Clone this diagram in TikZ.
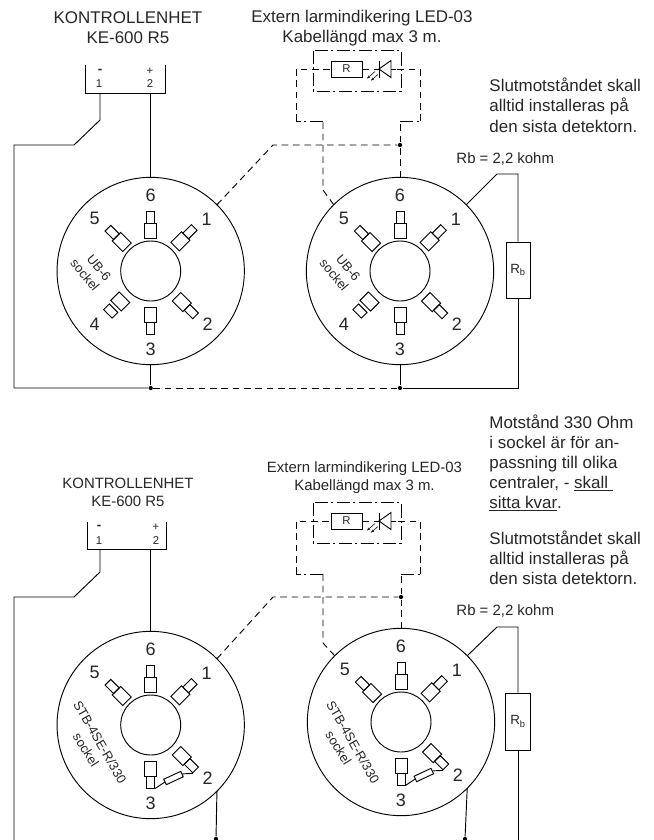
\documentclass[tikz,border=0pt]{standalone}
\usepackage{fontspec}
\setmainfont{Liberation Sans}
\usetikzlibrary{arrows.meta}
\tikzset{
  every node/.style={text=black!85},
  streck/.style={dash pattern=on 5pt off 3.5pt},
  streckpunkt/.style={dash pattern=on 10pt off 2.5pt on 1.5pt off 2.5pt},
  prick/.style={circle, fill=black, inner sep=0pt, minimum size=3.2pt},
  stor/.style={draw, inner sep=0pt, minimum width=9pt, minimum height=11.25pt},
  liten/.style={draw, inner sep=0pt, minimum width=6pt, minimum height=9pt},
  siffra/.style={font=\fontsize{13.5}{16}\selectfont},
  plint/.style={font=\fontsize{8.5}{10}\selectfont},
  minus/.style={font=\fontsize{10}{12}\selectfont\bfseries},
  rubrik/.style={align=center, font=\fontsize{12.7}{15}\selectfont},
  rubrikliten/.style={align=center, font=\fontsize{11.2}{13.5}\selectfont},
  notis/.style={align=left, anchor=north west, inner sep=0pt, font=\fontsize{12.7}{15.4}\selectfont},
  notisliten/.style={align=left, anchor=north west, inner sep=0pt, font=\fontsize{12.7}{15}\selectfont},
  rbtext/.style={anchor=west, inner sep=0pt, font=\fontsize{11.2}{13}\selectfont},
  vrid/.style={font=\fontsize{9.7}{11}\selectfont},
  pics/sockel/.style={code={
    \node[draw, circle, inner sep=0pt, outer sep=0pt, minimum size=140.5pt] (outer) at (0,0) {};
    \node[draw, circle, inner sep=0pt, minimum size=45pt] (inner) at (0,0) {};
    % stift 6, 1, 5, 2, 3
    \foreach \n/\a/\r in {6/-90/40.5, 1/-45/42, 5/-135/41, 2/45/44, 3/90/43.5} {
      \node[stor, rotate=-1*\a-90] (stor\n) at (\a:\r) {};
      \node[liten, rotate=-1*\a-90] (liten\n) at (\a:\r+13.5) {};
    }
    \node[siffra] (nr6) at (0,-76) {6};
    \node[siffra] (nr5) at (-56,-53) {5};
    \node[siffra] (nr1) at (56,-52) {1};
    \node[siffra] (nr2) at (57,53) {2};
    \node[siffra] (nr3) at (0,78) {3};
  }},
  pics/led/.style={code={
    \draw[streckpunkt] (-44,-20) rectangle (44,20.5);
    \node[draw, inner sep=0pt, minimum width=23.25pt, minimum height=12pt, plint] (R) at (-10.5,-1.5) {R};
    \coordinate (katod) at (22,-1.5);
    \coordinate (anod) at (34,-1.5);
    \draw (34,-10) -- (22,-1.5) -- (34,7) -- cycle;
    \draw (22,-10) -- (22,7);
    \draw (anod) -- (39,-1.5);
    \draw[streck] (R.east) -- (katod);
    % ljuspilar
    \draw[-{Stealth[length=2.5pt,width=2pt]}, line width=.4pt] (18,1) -- (10,8);
    \draw[-{Stealth[length=2.5pt,width=2pt]}, line width=.4pt] (21,4) -- (14,10);
  }}
}
\begin{document}
\begin{tikzpicture}[x=.75pt, y=-.75pt, line width=.7pt]
  \useasboundingbox (0,0) rectangle (654,840);

  % Rubriker, ovre schemat
  \node[rubrik] (enhet1) at (128,28) {KONTROLLENHET\\KE-600 R5};
  \node[rubrik] (larm1) at (362,28) {Extern larmindikering LED-03\\Kabellängd max 3 m.};
  \node[notis] (not1) at (489,77) {Slutmotståndet skall\\alltid installeras på\\den sista detektorn.};
  \node[rbtext] (rbtext1) at (456,159) {Rb = 2,2 kohm};

  % Plint
  \draw (85,65) -- (85,93) -- (165,93) -- (165,65);
  \coordinate (p1) at (100,93);
  \coordinate (p2) at (150,93);
  \node[minus] (minus1) at (100,71) {-};
  \node[plint] (ett1) at (99,84) {1};
  \node[plint] (plus1) at (150,71) {+};
  \node[plint] (tva1) at (150,84) {2};

  % Socklar
  \pic (a) at (150.7,271) {sockel};
  \pic (b) at (400,271) {sockel};
  \node[stor, rotate=45] (astor4) at (150.7-30.5,271+30.5) {};
  \node[liten, rotate=45] (aliten4) at (150.7-40,271+40) {};
  \node[siffra] (anr4) at (94.7,324) {4};
  \node[stor, rotate=45] (bstor4) at (400-30.5,271+30.5) {};
  \node[liten, rotate=45] (bliten4) at (400-40,271+40) {};
  \node[siffra] (bnr4) at (344,324) {4};
  \node[vrid, rotate=-50] (atyp) at (99,268) {UB-6};
  \node[vrid, rotate=-50] (asock) at (85,275) {sockel};
  \node[vrid, rotate=-50] (btyp) at (348.3,268) {UB-6};
  \node[vrid, rotate=-50] (bsock) at (334.3,275) {sockel};

  % LED
  \pic (l) at (357,70.5) {led};

  % Prickar och Rb
  \node[prick] (k1) at (400,145) {};
  \node[prick] (k2) at (150.7,388) {};
  \node[prick] (k3) at (400,388) {};
  \node[draw, inner sep=0pt, minimum width=18pt, minimum height=42pt, font=\fontsize{10}{12}\selectfont] (rb1) at (518,270) {R\textsubscript{b}};

  % Matning
  \draw (p1) -- (100,120) -- (74,145) -- (14,145) -- (14,388) -- (k2);
  \draw (p2) -- (150,93 |- aouter.north);
  \draw (aouter.south) -- (k2);
  \draw (bouter.south) -- (k3);
  \draw[streck] (k2) -- (k3);
  \draw (bouter.45) -- (497,174) -- (518,174) -- (rb1.north);
  \draw (rb1.south) -- (518,388) -- (k3);

  % Streckad koppling
  \draw[streck] (aouter.45) -- (273,145) -- (k1);
  \draw[streck] (bouter.north) -- (k1);
  \draw[streck] (k1) -- (400,121);
  \draw[streckpunkt] (400,121) -- (420,121);
  \draw[streck] (420,121) -- (420,69) -- (396,69);
  \draw[streck] (bouter.135) -- (323,190) -- (323,121);
  \draw[streckpunkt] (323,121) -- (296,121);
  \draw[streck] (296,121) -- (296,69) -- (lR.west);

  % Rubriker, nedre schemat
  \node[rubrikliten] (enhet2) at (128,492) {KONTROLLENHET\\KE-600 R5};
  \node[rubrikliten] (larm2) at (364.5,478) {Extern larmindikering LED-03\\Kabellängd max 3 m.};
  \node[notisliten] (not2) at (489,414) {Motstånd 330 Ohm\\i sockel är för an-\\passning till olika\\centraler, - \underline{skall\ }\\\underline{sitta kvar}.};
  \node[notisliten] (not3) at (489,530) {Slutmotståndet skall\\alltid installeras på\\den sista detektorn.};
  \node[rbtext] (rbtext2) at (456,611) {Rb = 2,2 kohm};

  % Plint
  \draw (87,522) -- (87,549) -- (166,549) -- (166,522);
  \coordinate (p3) at (100,549);
  \coordinate (p4) at (150,549);
  \node[minus] (minus2) at (99,527) {-};
  \node[plint] (ett2) at (99,541) {1};
  \node[plint] (plus2) at (156,527) {+};
  \node[plint] (tva2) at (156,541) {2};

  % Socklar
  \pic (c) at (150.7,725) {sockel};
  \pic (d) at (401,722) {sockel};
  \node[vrid, rotate=-60] (ctyp) at (100,742) {STB-4SE-R/330};
  \node[vrid, rotate=-58] (csock) at (86,750) {sockel};
  \node[vrid, rotate=-60] (dtyp) at (353,742) {STB-4SE-R/330};
  \node[vrid, rotate=-58] (dsock) at (338.5,748) {sockel};
  % motstand 330 ohm
  \node[draw, fill=white, inner sep=0pt, minimum width=14pt, minimum height=4.5pt, rotate=25] (cmot) at (173.5,778) {};
  \draw (cliten3.north west) -- (cmot.west);
  \draw (cmot.east) -- (cliten2.north east);
  \node[draw, fill=white, inner sep=0pt, minimum width=14pt, minimum height=4.5pt, rotate=25] (dmot) at (423.8,775) {};
  \draw (dliten3.north west) -- (dmot.west);
  \draw (dmot.east) -- (dliten2.north east);

  % LED
  \pic (m) at (357,522.5) {led};

  % Prickar och Rb
  \node[prick] (k4) at (401,597) {};
  \node[prick] (k5) at (216,839) {};
  \node[prick] (k6) at (465,839) {};
  \coordinate (v1) at (14,840);
  \coordinate (h1) at (518,840);
  \node[draw, inner sep=0pt, minimum width=18.5pt, minimum height=42.75pt, font=\fontsize{10}{12}\selectfont] (rb2) at (518,721.5) {R\textsubscript{b}};

  % Matning
  \draw (p3) -- (100,572) -- (74,597) -- (14,597) -- (v1);
  \draw (p4) -- (150,549 |- couter.north);
  \draw (couter.-45) -- (k5);
  \draw (douter.-45) -- (k6);
  \draw (douter.45) -- (497,627) -- (518,627) -- (rb2.north);
  \draw (rb2.south) -- (h1);

  % Streckad koppling
  \draw[streck] (couter.45) -- (273,597) -- (k4);
  \draw[streck] (douter.north) -- (k4);
  \draw[streck] (k4) -- (401,574);
  \draw[streckpunkt] (401,574) -- (420,574);
  \draw[streck] (420,574) -- (420,521) -- (396,521);
  \draw[streck] (douter.135) -- (323,643) -- (323,574);
  \draw[streckpunkt] (323,574) -- (296,574);
  \draw[streck] (296,574) -- (296,521) -- (mR.west);
\end{tikzpicture}
\end{document}
